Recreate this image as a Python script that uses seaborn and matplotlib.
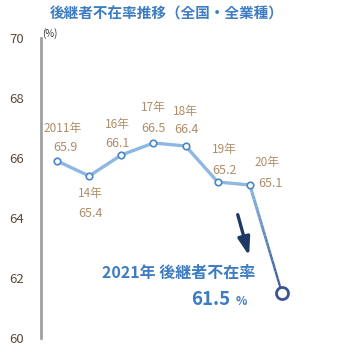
import numpy as np
import pandas as pd
import matplotlib
matplotlib.use("Agg")
import matplotlib.pyplot as plt
from matplotlib.collections import LineCollection
import seaborn as sns

years = ["2011年", "14年", "16年", "17年", "18年", "19年", "20年", "2021"]
values = [65.9, 65.4, 66.1, 66.5, 66.4, 65.2, 65.1, 61.5]
yticks = [60, 62, 64, 66, 68, 70]

sns.set_theme(style="white")
plt.rcParams['font.family'] = ['Noto Sans CJK JP', 'DejaVu Sans']

df = pd.DataFrame({"pos": np.arange(len(values)), "val": values, "year": years})

fig = plt.figure(figsize=(3.55, 3.63), dpi=100)
ax = fig.add_axes([41/355, 1-338/363, (330-41)/355, 300/363])

light = "#8db8e2"
dark = "#2f4f8f"
main = df.iloc[:-1]
sns.lineplot(data=main, x="pos", y="val", ax=ax, color=light, lw=2.4, zorder=2)

# gradient last segment
x0, y0 = df.pos.iloc[-2], df.val.iloc[-2]
x1, y1 = df.pos.iloc[-1], df.val.iloc[-1]
n = 30
ts = np.linspace(0, 1, n + 1)
xs = x0 + (x1 - x0) * ts
ys = y0 + (y1 - y0) * ts
segs = [[(xs[i], ys[i]), (xs[i+1], ys[i+1])] for i in range(n)]
c0 = np.array(matplotlib.colors.to_rgb(light))
c1 = np.array(matplotlib.colors.to_rgb(dark))
cols = [c0 + (c1 - c0) * t for t in ts[:-1]]
lws = [2.4 - 0.9 * t for t in ts[:-1]]
ax.add_collection(LineCollection(segs, colors=cols, linewidths=lws, zorder=2))

sns.scatterplot(data=main, x="pos", y="val", ax=ax, s=22, color="white",
                edgecolor="#4a86c5", linewidth=1.2, zorder=3)
sns.scatterplot(data=df.iloc[-1:], x="pos", y="val", ax=ax, s=75, color="white",
                edgecolor="#3a5590", linewidth=2.0, zorder=4)

lab_col = "#b08d6a"
# (dx_year, dy_year, dx_val, dy_val) offsets in pixels
offs = [(6, 32, 8, 13), (1, -18, 1, -38), (-4, 31, -4, 12), (0, 35, 0, 15),
        (0, 34, 1, 16), (7, 32, 7, 12), (17, 23, 21, 2)]
for i, (dxy, dyy, dxv, dyv) in enumerate(offs):
    ax.annotate(years[i], (df.pos[i], df.val[i]), xytext=(dxy, dyy),
                textcoords="offset pixels", ha="center", va="center",
                fontsize=8.5, color=lab_col)
    ax.annotate(f"{values[i]:.1f}", (df.pos[i], df.val[i]), xytext=(dxv, dyv),
                textcoords="offset pixels", ha="center", va="center",
                fontsize=9, color=lab_col)

# arrow
ax.annotate("", xy=(6.0, 62.65), xytext=(5.6, 64.2),
            arrowprops=dict(arrowstyle="-|>,head_length=0.9,head_width=0.3",
                            color="#1f3864", lw=2.4))

blue = "#3d7cc0"
ax.text(3.78, 62.17, "2021年 後継者不在率", ha="center", va="center",
        fontsize=11.5, fontweight="bold", color=blue)
ax.text(5.4, 61.27, "61.5", ha="right", va="center", fontsize=13.5,
        fontweight="bold", color=blue)
ax.text(5.55, 61.22, "%", ha="left", va="center", fontsize=8.5,
        fontweight="bold", color=blue)

ax.set_xlim(-0.5, (330-57)/32.14)
ax.set_ylim(60, 70)
ax.set_yticks(yticks)
ax.set_yticklabels([str(v) for v in yticks], fontsize=9.5, color="#594a3c")
ax.set_xticks([])
ax.set_xlabel("")
ax.set_ylabel("")
ax.tick_params(axis="y", length=0, pad=12)
for s in ["top", "right", "bottom"]:
    ax.spines[s].set_visible(False)
ax.spines["left"].set_color("#a0a0a0")
ax.spines["left"].set_linewidth(2)

fig.text(42/355, 1-34/363, "(%)", fontsize=7, color="#333333", ha="left", va="center")
fig.text(167/355, 1-14/363, "後継者不在率推移（全国・全業種）", fontsize=10.5,
         fontweight="bold", color=blue, ha="center", va="center")

fig.savefig("out.png", dpi=100)
